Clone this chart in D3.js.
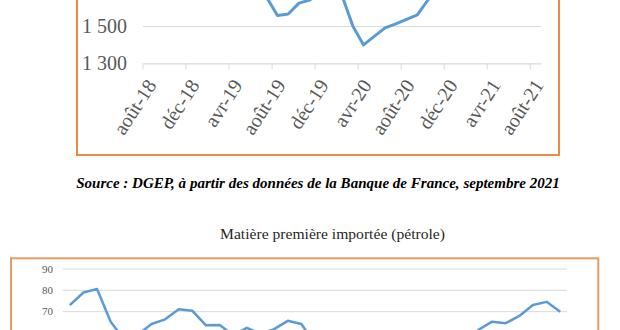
<!DOCTYPE html>
<html><head><meta charset="utf-8">
<script src="https://cdn.jsdelivr.net/npm/d3@7"></script>
<style>html,body{margin:0;padding:0;background:#fff;overflow:hidden}svg{display:block}</style>
</head><body>
<svg id="c" width="620" height="330"></svg>
<script>
// ---- data ----
const months = ["août-18","sept-18","oct-18","nov-18","déc-18","janv-19","févr-19","mars-19","avr-19","mai-19","juin-19","juil-19",
  "août-19","sept-19","oct-19","nov-19","déc-19","janv-20","févr-20","mars-20","avr-20","mai-20","juin-20","juil-20",
  "août-20","sept-20","oct-20","nov-20","déc-20","janv-21","févr-21","mars-21","avr-21","mai-21","juin-21","juil-21","août-21"];
// upper chart (only its lower part is visible in the picture)
const topValues = [1880,1860,1890,1830,1780,1760,1790,1810,1780,1740,1700,1659,
  1560,1569,1628,1644,1700,1720,1670,1504,1400,1447,1493,1515,
  1539,1564,1645,1740,1850,1900,1980,2080,2150,2300,2350,2420,2500];
const topTicks = [1300,1500,1700,1900,2100,2300,2500,2700,2900];
// lower chart: imported raw material (oil)
const oilValues = [73.1,79.0,80.6,65.3,56.8,59.3,64.2,66.4,71.1,70.4,63.6,63.7,
  59.0,62.4,59.7,61.8,65.7,64.2,55.0,32.0,18.5,29.0,40.0,43.0,
  45.0,41.0,40.0,43.0,50.0,54.8,61.5,65.3,64.6,68.0,73.1,74.6,70.0];
const oilTicks = [0,10,20,30,40,50,60,70,80,90];
const labelMonths = months.filter((d,i)=>i%4===0);
const sourceText = "Source : DGEP, à partir des données de la Banque de France, septembre 2021";
const oilTitle = "Matière première importée (pétrole)";

// ---- drawing ----
const serif = "'Liberation Serif','Times New Roman',serif";
const blue = "#5B9BD5", grid = "#D9D9D9", labelCol = "#595959";
const svg = d3.select("#c");
const fr = d3.formatLocale({decimal:",", thousands:"\u00a0", grouping:[3], currency:["","€"]});
const fmt = fr.format(",d");

// upper chart
const x1 = d3.scaleBand().domain(months).range([143, 541]).padding(0);
const y1 = d3.scaleLinear().domain([1300, 2900]).range([63.3, -230.3]);
svg.append("rect").attr("x",77).attr("y",-280).attr("width",482).attr("height",435)
  .attr("fill","#fff").attr("stroke","#EE8A48").attr("stroke-width",2);
svg.append("g").selectAll("line").data(topTicks.slice(1)).join("line")
  .attr("x1",143).attr("x2",541).attr("y1",d=>y1(d)).attr("y2",d=>y1(d))
  .attr("stroke",grid).attr("stroke-width",1);
// only the tick labels that fall inside the visible window are drawn
svg.append("g").selectAll("text").data(topTicks.filter(d=>y1(d)>8)).join("text")
  .attr("x",127).attr("y",d=>y1(d)).attr("dy","0.34em").attr("text-anchor","end")
  .attr("font-family",serif).attr("font-size",20).attr("fill",labelCol).text(d=>fmt(d));
const bw1 = x1.bandwidth();
const ax1 = svg.append("g").attr("transform","translate(0,63.3)")
  .call(d3.axisBottom(x1).tickValues(labelMonths).tickSize(6).tickSizeOuter(0));
ax1.select(".domain").attr("stroke",grid).attr("stroke-width",1.2);
ax1.selectAll(".tick line").attr("stroke",grid).attr("x1",-bw1/2).attr("x2",-bw1/2);
ax1.selectAll(".tick text").attr("font-family",serif).attr("font-size",20).attr("fill",labelCol)
  .attr("text-anchor","end").attr("x",0).attr("y",0).attr("dy","0.35em")
  .attr("transform","translate(3,18) rotate(-57)");
svg.append("path").datum(topValues)
  .attr("d", d3.line().x((d,i)=>x1(months[i])+bw1/2).y(d=>y1(d)))
  .attr("fill","none").attr("stroke",blue).attr("stroke-width",3).attr("stroke-linejoin","round");

// source line
const src = svg.append("text").attr("x",318).attr("y",188).attr("text-anchor","middle")
  .attr("font-family",serif).attr("font-weight","bold").attr("font-style","italic")
  .attr("font-size",16).attr("fill","#000").text(sourceText);
let w = src.node().getComputedTextLength();
src.attr("font-size", 16*484/w);

// lower chart title
const tt = svg.append("text").attr("x",332.5).attr("y",239).attr("text-anchor","middle")
  .attr("font-family",serif).attr("font-size",15).attr("fill","#262626").text(oilTitle);
w = tt.node().getComputedTextLength();
tt.attr("font-size", 15*225/w);

// lower chart
const x2 = d3.scaleBand().domain(months).range([63, 567]).padding(0);
const y2 = d3.scaleLinear().domain([0, 90]).range([461, 269]);
svg.append("rect").attr("x",11).attr("y",258.3).attr("width",587.3).attr("height",260)
  .attr("fill","none").attr("stroke","#E49C62").attr("stroke-width",2);
svg.append("g").selectAll("line").data(oilTicks).join("line")
  .attr("x1",63).attr("x2",567).attr("y1",d=>y2(d)).attr("y2",d=>y2(d))
  .attr("stroke",grid).attr("stroke-width",1);
svg.append("g").selectAll("text").data(oilTicks.filter(d=>y2(d)<340)).join("text")
  .attr("x",53).attr("y",d=>y2(d)).attr("dy","0.34em").attr("text-anchor","end")
  .attr("font-family",serif).attr("font-size",11).attr("fill",labelCol).text(d=>d);
const bw2 = x2.bandwidth();
svg.append("path").datum(oilValues)
  .attr("d", d3.line().x((d,i)=>x2(months[i])+bw2/2).y(d=>y2(d)))
  .attr("fill","none").attr("stroke",blue).attr("stroke-width",2.5).attr("stroke-linejoin","round");
</script>
</body></html>
